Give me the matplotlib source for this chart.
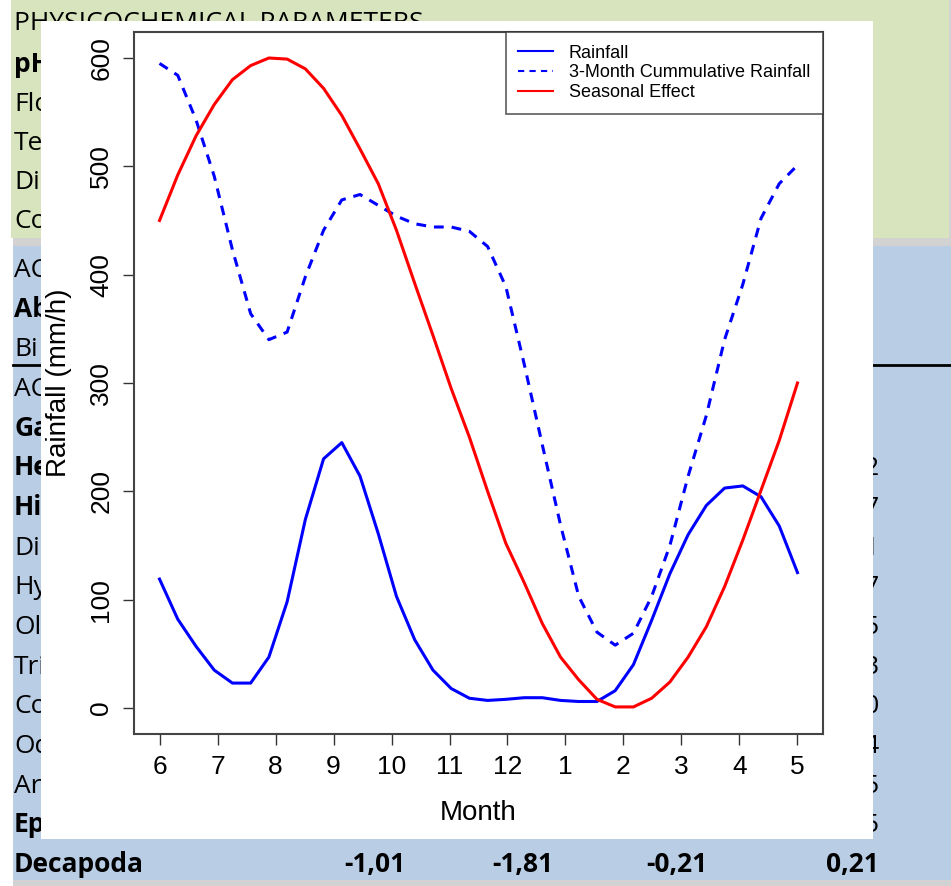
import numpy as np
import matplotlib.pyplot as plt
from matplotlib.patches import Rectangle
from matplotlib.lines import Line2D

# month labels on the x axis (June .. May)
months = ['6', '7', '8', '9', '10', '11', '12', '1', '2', '3', '4', '5']

# dekadal values (36 per year)
rainfall = [119, 82, 57, 35, 23, 23, 47, 98, 174, 230, 245, 214, 161, 103, 63, 35, 18, 9,
            7, 8, 9.5, 9.5, 7, 6, 6, 16, 40, 81, 124, 160, 187, 203, 205, 195, 168, 125]
cumulative = [595, 584, 543, 491, 423, 364, 340, 347, 398, 441, 469, 474, 464, 454, 447, 444, 444, 440,
              426, 389, 318, 243, 169, 103, 70, 58, 69, 103, 150, 214, 270, 340, 391, 452, 484, 501]
seasonal = [450, 492, 528, 557, 580, 593, 600, 599, 590, 572, 547, 516, 484, 441, 392, 344, 295, 250,
            200, 152, 116, 78, 47, 26, 8, 1, 1, 9, 24, 47, 75, 112, 155, 201, 247, 300]

# slide text showing around the pasted chart (only the visible fragments)
title = 'PHYSICOCHEMICAL PARAMETERS'
green_rows = [('pH', True), ('Flo', False), ('Tem', False), ('Dis', False), ('Con', False)]
blue_rows = [('ACA', False), ('Ab', True), ('Bi', False), ('AC', False),
             ('Ga', True), ('He', True), ('Hir', True), ('Dip', False),
             ('Hyd', False), ('Oli', False), ('Tri', False),
             ('Col', False), ('Odo', False), ('Ara', False),
             ('Eph', True)]
right_vals = ['0,12', '0,27', '0,11', '0,17', '0,15', '0,53', '0,40', '0,14', '0,25', '0,35']
decapoda_vals = ['-1,01', '-1,81', '-0,21', '0,21']

W, H = 951, 886
fig = plt.figure(figsize=(W / 100, H / 100), dpi=100)

# background slide in pixel coords
bg = fig.add_axes([0, 0, 1, 1])
bg.set_xlim(0, W)
bg.set_ylim(H, 0)
bg.axis('off')

bg.add_patch(Rectangle((11, 0), 938, 238, facecolor='#D7E4BD', edgecolor='none', zorder=1))
bg.add_patch(Rectangle((13, 238), 938, 8, facecolor='#B4B4B4', edgecolor='none', alpha=0.6, zorder=1))
bg.add_patch(Rectangle((949, 0), 2, 238, facecolor='#B4B4B4', edgecolor='none', alpha=0.6, zorder=1))
bg.add_patch(Rectangle((13, 246), 938, 634, facecolor='#B9CDE5', edgecolor='none', zorder=1))
bg.add_patch(Rectangle((13, 880), 938, 6, facecolor='#B4B4B4', edgecolor='none', alpha=0.6, zorder=1))
bg.plot([13, 951], [365, 365], color='black', lw=2, zorder=2)

font = 'Open Sans'
left_clip = Rectangle((0, 0), 41, H, transform=bg.transData)
right_clip = Rectangle((873, 0), W - 873, H, transform=bg.transData)

bg.text(14, 30, title, fontsize=19, family=font, va='baseline', ha='left', zorder=3)
for (txt, b), y in zip(green_rows, [72, 111, 150, 189, 228]):
    t = bg.text(14, y, txt, fontsize=19, family=font, fontweight='bold' if b else 'normal',
                va='baseline', ha='left', zorder=3)
    t.set_clip_path(left_clip)
yb = np.linspace(277, 872, len(blue_rows) + 1)
for (txt, b), y in zip(blue_rows, yb):
    t = bg.text(14, y, txt, fontsize=19, family=font, fontweight='bold' if b else 'normal',
                va='baseline', ha='left', zorder=3)
    t.set_clip_path(left_clip)
for txt, y in zip(right_vals, yb[5:15]):
    t = bg.text(880, y, txt, fontsize=19, family=font, va='baseline', ha='right', zorder=3)
    t.set_clip_path(right_clip)
bg.text(14, yb[-1], 'Decapoda', fontsize=19, family=font, fontweight='bold',
        va='baseline', ha='left', zorder=3)
for txt, x in zip(decapoda_vals, [405, 553, 707, 879]):
    bg.text(x, yb[-1], txt, fontsize=19, family=font, fontweight='bold',
            va='baseline', ha='right', zorder=3)

# white picture pasted on top
bg.add_patch(Rectangle((41, 21), 832, 818, facecolor='white', edgecolor='none', zorder=10))

# R style chart
ax = fig.add_axes([134 / W, 1 - 734 / H, 689 / W, 702 / H])
x = np.linspace(0, 11, len(rainfall))
ax.plot(x, rainfall, color='blue', lw=2.2)
ax.plot(x, cumulative, color='blue', lw=2.2, dashes=(3.2, 2.6))
ax.plot(x, seasonal, color='red', lw=2.2)
ax.set_xlim(-0.44, 11.44)
ax.set_ylim(-24, 624)

rfont = 'Liberation Sans'
ax.set_xticks(range(len(months)))
ax.set_xticklabels(months, fontsize=19, family=rfont)
ax.set_yticks([0, 100, 200, 300, 400, 500, 600])
ax.set_yticklabels(['0', '100', '200', '300', '400', '500', '600'], fontsize=19, family=rfont,
                   rotation=90, va='center')
ax.tick_params(axis='both', direction='out', length=8, width=1, color='#333333', pad=7)
for s in ax.spines.values():
    s.set_color('#444444')
    s.set_linewidth(1.5)
ax.set_xlabel('Month', fontsize=20, family=rfont, labelpad=15)
ax.set_ylabel('Rainfall (mm/h)', fontsize=20, family=rfont, labelpad=12)

handles = [Line2D([], [], color='blue', lw=1.5),
           Line2D([], [], color='blue', lw=1.5, dashes=(3, 2.5)),
           Line2D([], [], color='red', lw=1.5)]
leg = ax.legend(handles, ['Rainfall', '3-Month Cummulative Rainfall', 'Seasonal Effect'],
                loc='upper right', bbox_to_anchor=(1, 1), borderaxespad=0,
                prop={'family': rfont, 'size': 13}, frameon=True, fancybox=False,
                handlelength=1.9, handletextpad=0.9, labelspacing=0.15, borderpad=0.7)
leg.get_frame().set_edgecolor('#333333')
leg.get_frame().set_linewidth(1.2)

fig.savefig('out.png', dpi=100)
